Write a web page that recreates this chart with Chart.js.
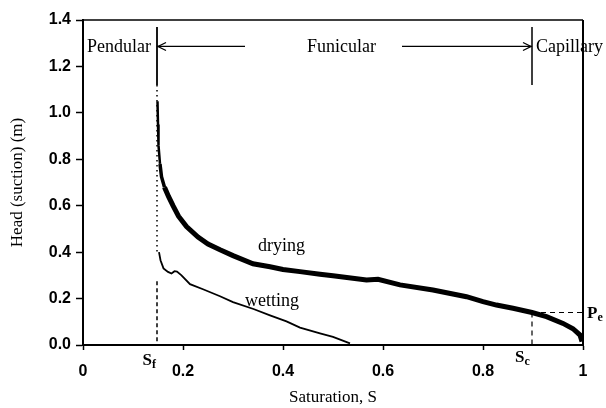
<!DOCTYPE html>
<html>
<head>
<meta charset="utf-8">
<script src="https://cdn.jsdelivr.net/npm/chart.js@4.4.0/dist/chart.umd.min.js"></script>
<style>
body { margin: 0; background: #fff; }
</style>
</head>
<body>
<canvas id="retentionChart" width="606" height="408"></canvas>
<script>
// drying curve (saturation, head in m)
const dryS = [0.149, 0.150, 0.151, 0.154, 0.157, 0.163, 0.171, 0.180, 0.191, 0.207, 0.230, 0.250, 0.274, 0.300, 0.340, 0.374, 0.400, 0.434, 0.474, 0.500, 0.567, 0.590, 0.634, 0.700, 0.767, 0.800, 0.827, 0.860, 0.898, 0.927, 0.960, 0.980, 0.994, 0.998];
const dryH = [1.05, 0.95, 0.86, 0.78, 0.725, 0.68, 0.64, 0.60, 0.555, 0.51, 0.465, 0.435, 0.41, 0.385, 0.35, 0.337, 0.325, 0.316, 0.305, 0.298, 0.28, 0.283, 0.259, 0.237, 0.208, 0.187, 0.172, 0.158, 0.14, 0.122, 0.093, 0.07, 0.043, 0.015];

// wetting curve
const wetS = [0.152, 0.155, 0.161, 0.170, 0.177, 0.183, 0.188, 0.197, 0.214, 0.240, 0.274, 0.300, 0.341, 0.374, 0.407, 0.434, 0.474, 0.500, 0.534];
const wetH = [0.40, 0.365, 0.33, 0.315, 0.308, 0.318, 0.316, 0.300, 0.262, 0.240, 0.210, 0.185, 0.155, 0.128, 0.102, 0.075, 0.05, 0.035, 0.007];

// sparse points at the residual saturation
const sparseS = [0.148, 0.148];
const sparseH = [1.12, 0.40];

// regime boundaries
const Sf = 0.148;
const Sc = 0.898;
const Pe = 0.14;
const boundTop = 1.37;
const boundBottom = 1.12;
const arrowH = 1.286;
const leftArrowS = [Sf, 0.324];
const rightArrowS = [0.638, Sc];
const sfDashH = [0.275, 0];

const xTicks = [0, 0.2, 0.4, 0.6, 0.8, 1];
const yTicks = [0, 0.2, 0.4, 0.6, 0.8, 1.0, 1.2, 1.4];

const pts = (xs, ys) => xs.map((x, i) => ({x: x, y: ys[i]}));

const serif = "'Liberation Serif', 'Times New Roman', serif";
const sans = "'Liberation Sans', Arial, sans-serif";

const labels = [
    {text: 'Pendular', s: 0.008, h: 1.264},
    {text: 'Funicular', s: 0.448, h: 1.264},
    {text: 'Capillary', s: 0.906, h: 1.264},
    {text: 'drying', s: 0.35, h: 0.406},
    {text: 'wetting', s: 0.324, h: 0.168}
];
const symbols = [
    {main: 'S', sub: 'f', s: 0.119, h: -0.086},
    {main: 'S', sub: 'c', s: 0.864, h: -0.073},
    {main: 'P', sub: 'e', s: 1.008, h: 0.116}
];

const lineSet = (data, width, dash) => ({
    data: data,
    borderColor: '#000',
    borderWidth: width,
    borderDash: dash || [],
    pointRadius: 0,
    fill: false,
    tension: 0
});

const extras = {
    id: 'extras',
    afterDatasetsDraw(chart) {
        const ctx = chart.ctx;
        const xs = chart.scales.x, ys = chart.scales.y;
        const a = chart.chartArea;
        ctx.save();
        ctx.strokeStyle = '#000';
        // top and right frame
        ctx.lineWidth = 1.5;
        ctx.beginPath();
        ctx.moveTo(a.left, a.top);
        ctx.lineTo(a.right, a.top);
        ctx.stroke();
        ctx.lineWidth = 2;
        ctx.beginPath();
        ctx.moveTo(a.right, a.top);
        ctx.lineTo(a.right, a.bottom);
        ctx.stroke();
        // arrow heads
        const ay = ys.getPixelForValue(arrowH);
        const head = (x, dir) => {
            ctx.lineWidth = 1.3;
            ctx.beginPath();
            ctx.moveTo(x - dir * 8, ay - 4);
            ctx.lineTo(x, ay);
            ctx.lineTo(x - dir * 8, ay + 4);
            ctx.stroke();
        };
        head(xs.getPixelForValue(leftArrowS[0]) + 1, -1);
        head(xs.getPixelForValue(rightArrowS[1]) - 1, 1);
        // text
        ctx.fillStyle = '#000';
        ctx.textBaseline = 'alphabetic';
        ctx.textAlign = 'left';
        ctx.font = '18px ' + serif;
        labels.forEach(l => ctx.fillText(l.text, xs.getPixelForValue(l.s), ys.getPixelForValue(l.h)));
        symbols.forEach(l => {
            const x = xs.getPixelForValue(l.s), y = ys.getPixelForValue(l.h);
            ctx.font = 'bold 17px ' + serif;
            ctx.fillText(l.main, x, y);
            const w = ctx.measureText(l.main).width;
            ctx.font = 'bold 12px ' + serif;
            ctx.fillText(l.sub, x + w, y + 3);
        });
        ctx.restore();
    }
};

const drying = lineSet(pts(dryS, dryH), 5);
// the steep part near Sf is drawn thinner in the original
drying.segment = {borderWidth: c => c.p0.parsed.y > 0.8 ? 2.5 : (c.p0.parsed.y > 0.7 ? 3.5 : undefined)};

new Chart(document.getElementById('retentionChart'), {
    type: 'line',
    data: {
        datasets: [
            drying,
            lineSet(pts(wetS, wetH), 1.8),
            lineSet(pts(sparseS, sparseH), 1.5, [1.5, 3.5]),
            lineSet(pts([Sf, Sf], [boundTop, boundBottom]), 1.8),
            lineSet(pts([Sc, Sc], [boundTop, boundBottom]), 1.5),
            lineSet(pts(leftArrowS, [arrowH, arrowH]), 1.3),
            lineSet(pts(rightArrowS, [arrowH, arrowH]), 1.3),
            lineSet(pts([Sf, Sf], sfDashH), 1.5, [4, 3]),
            lineSet(pts([Sc, Sc], [Pe, 0]), 1.2, [5, 4]),
            lineSet(pts([Sc, 1], [Pe, Pe]), 1.2, [5, 4])
        ]
    },
    options: {
        responsive: false,
        animation: false,
        devicePixelRatio: 1,
        layout: {padding: {left: 0, top: 20, right: 23, bottom: 0}},
        plugins: {legend: {display: false}, tooltip: {enabled: false}},
        scales: {
            x: {
                type: 'linear',
                min: 0,
                max: 1,
                afterBuildTicks: s => { s.ticks = xTicks.map(v => ({value: v})); },
                afterFit: s => { s.height = 63; },
                grid: {drawOnChartArea: false, tickLength: 5, tickColor: '#000', tickWidth: 1.5},
                border: {color: '#000', width: 2},
                ticks: {
                    color: '#000',
                    padding: 12,
                    autoSkip: false,
                    maxRotation: 0,
                    font: {family: sans, size: 16, weight: 'bold'},
                    callback: v => (v === 0 || v === 1) ? String(v) : v.toFixed(1)
                },
                title: {display: true, text: 'Saturation, S', color: '#000', font: {family: serif, size: 17}, padding: {top: 0, bottom: 0}}
            },
            y: {
                type: 'linear',
                min: 0,
                max: 1.4,
                afterBuildTicks: s => { s.ticks = yTicks.map(v => ({value: v})); },
                afterFit: s => { s.width = 83; },
                grid: {drawOnChartArea: false, tickLength: 7, tickColor: '#000', tickWidth: 1.5},
                border: {color: '#000', width: 2},
                ticks: {
                    color: '#000',
                    padding: 5,
                    autoSkip: false,
                    font: {family: sans, size: 16, weight: 'bold'},
                    callback: v => v.toFixed(1)
                },
                title: {display: true, text: 'Head (suction) (m)', color: '#000', font: {family: serif, size: 17}, padding: {top: 7, bottom: 0}}
            }
        }
    },
    plugins: [extras]
});
</script>
</body>
</html>
